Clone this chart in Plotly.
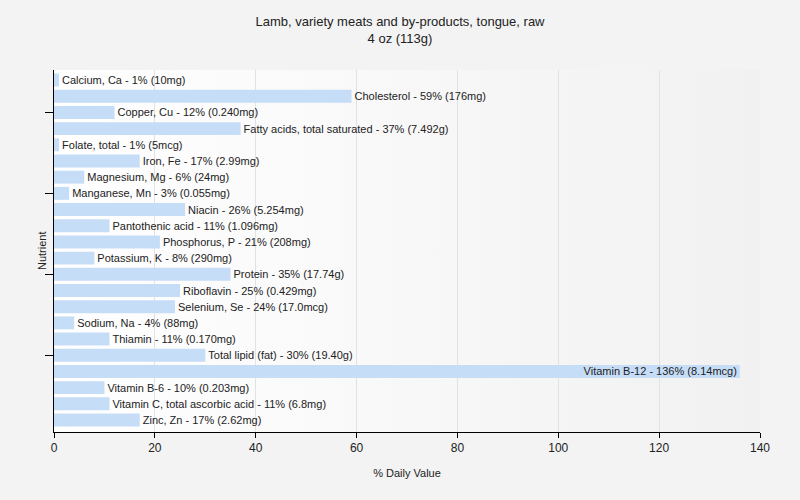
import base64
import plotly.graph_objects as go

nutrients = ["Calcium, Ca", "Cholesterol", "Copper, Cu", "Fatty acids, total saturated",
             "Folate, total", "Iron, Fe", "Magnesium, Mg", "Manganese, Mn", "Niacin",
             "Pantothenic acid", "Phosphorus, P", "Potassium, K", "Protein", "Riboflavin",
             "Selenium, Se", "Sodium, Na", "Thiamin", "Total lipid (fat)", "Vitamin B-12",
             "Vitamin B-6", "Vitamin C, total ascorbic acid", "Zinc, Zn"]
daily_pct = [1, 59, 12, 37, 1, 17, 6, 3, 26, 11, 21, 8, 35, 25, 24, 4, 11, 30, 136, 10, 11, 17]
amounts = ["10mg", "176mg", "0.240mg", "7.492g", "5mcg", "2.99mg", "24mg", "0.055mg",
           "5.254mg", "1.096mg", "208mg", "290mg", "17.74g", "0.429mg", "17.0mcg", "88mg",
           "0.170mg", "19.40g", "8.14mcg", "0.203mg", "6.8mg", "2.62mg"]

labels = [f"{n} - {p}% ({a})" for n, p, a in zip(nutrients, daily_pct, amounts)]
positions = ["inside" if p > 120 else "outside" for p in daily_pct]
ypos = list(range(len(nutrients)))

font_family = "Liberation Sans, Arial, sans-serif"

svg = ('<svg xmlns="http://www.w3.org/2000/svg" width="100" height="100" preserveAspectRatio="none">'
       '<defs><linearGradient id="g" x1="0" y1="0" x2="1" y2="0">'
       '<stop offset="0" stop-color="#ffffff"/><stop offset="1" stop-color="#f1f1f1"/>'
       '</linearGradient></defs><rect width="100" height="100" fill="url(#g)"/></svg>')
bg_src = "data:image/svg+xml;base64," + base64.b64encode(svg.encode()).decode()

fig = go.Figure(go.Bar(
    x=daily_pct, y=ypos, orientation="h",
    marker=dict(color="#c6ddf8", line=dict(width=0)),
    width=0.8,
    text=labels, textposition=positions, insidetextanchor="end",
    textfont=dict(family=font_family, size=11, color="#222222"),
    insidetextfont=dict(family=font_family, size=11, color="#222222"),
    outsidetextfont=dict(family=font_family, size=11, color="#222222"),
    constraintext="none",
    cliponaxis=False, hoverinfo="skip",
))

fig.update_layout(
    width=800, height=500,
    margin=dict(l=54, r=40, t=70, b=68, autoexpand=False),
    paper_bgcolor="#f3f3f3", plot_bgcolor="rgba(0,0,0,0)",
    images=[dict(source=bg_src, xref="paper", yref="paper", x=0, y=1,
                 sizex=1, sizey=1, sizing="stretch", layer="below",
                 xanchor="left", yanchor="top")],
    title=dict(text="Lamb, variety meats and by-products, tongue, raw<br>4 oz (113g)",
               x=0.5, xanchor="center", y=0.948, yanchor="top",
               font=dict(family=font_family, size=13, color="#222222")),
    font=dict(family=font_family, size=12, color="#222222"),
    uniformtext=dict(minsize=11, mode="show"),
    annotations=[dict(text="Nutrient", xref="paper", yref="paper", x=0, y=0.5,
                      xshift=-12, textangle=-90, showarrow=False,
                      xanchor="center", yanchor="middle",
                      font=dict(family=font_family, size=11, color="#222222"))],
    showlegend=False, bargap=0.2,
)
fig.update_xaxes(range=[0, 140], dtick=20, showgrid=True, gridcolor="#e2e2e2",
                 showline=True, linecolor="#000000", linewidth=1,
                 ticks="outside", ticklen=5, tickcolor="#000000",
                 tickfont=dict(size=12), zeroline=False, automargin=False,
                 title=dict(text="% Daily Value", font=dict(size=11), standoff=14))
fig.update_yaxes(range=[21.74, -0.62], tickvals=[2, 7, 12, 17], ticktext=["", "", "", ""],
                 showgrid=False, showline=True, linecolor="#000000", linewidth=1,
                 ticks="outside", ticklen=8, tickcolor="#000000", zeroline=False,
                 automargin=False)

fig.write_html("out.html", config={"displayModeBar": False},
               post_script="document.body.style.margin='0';")
